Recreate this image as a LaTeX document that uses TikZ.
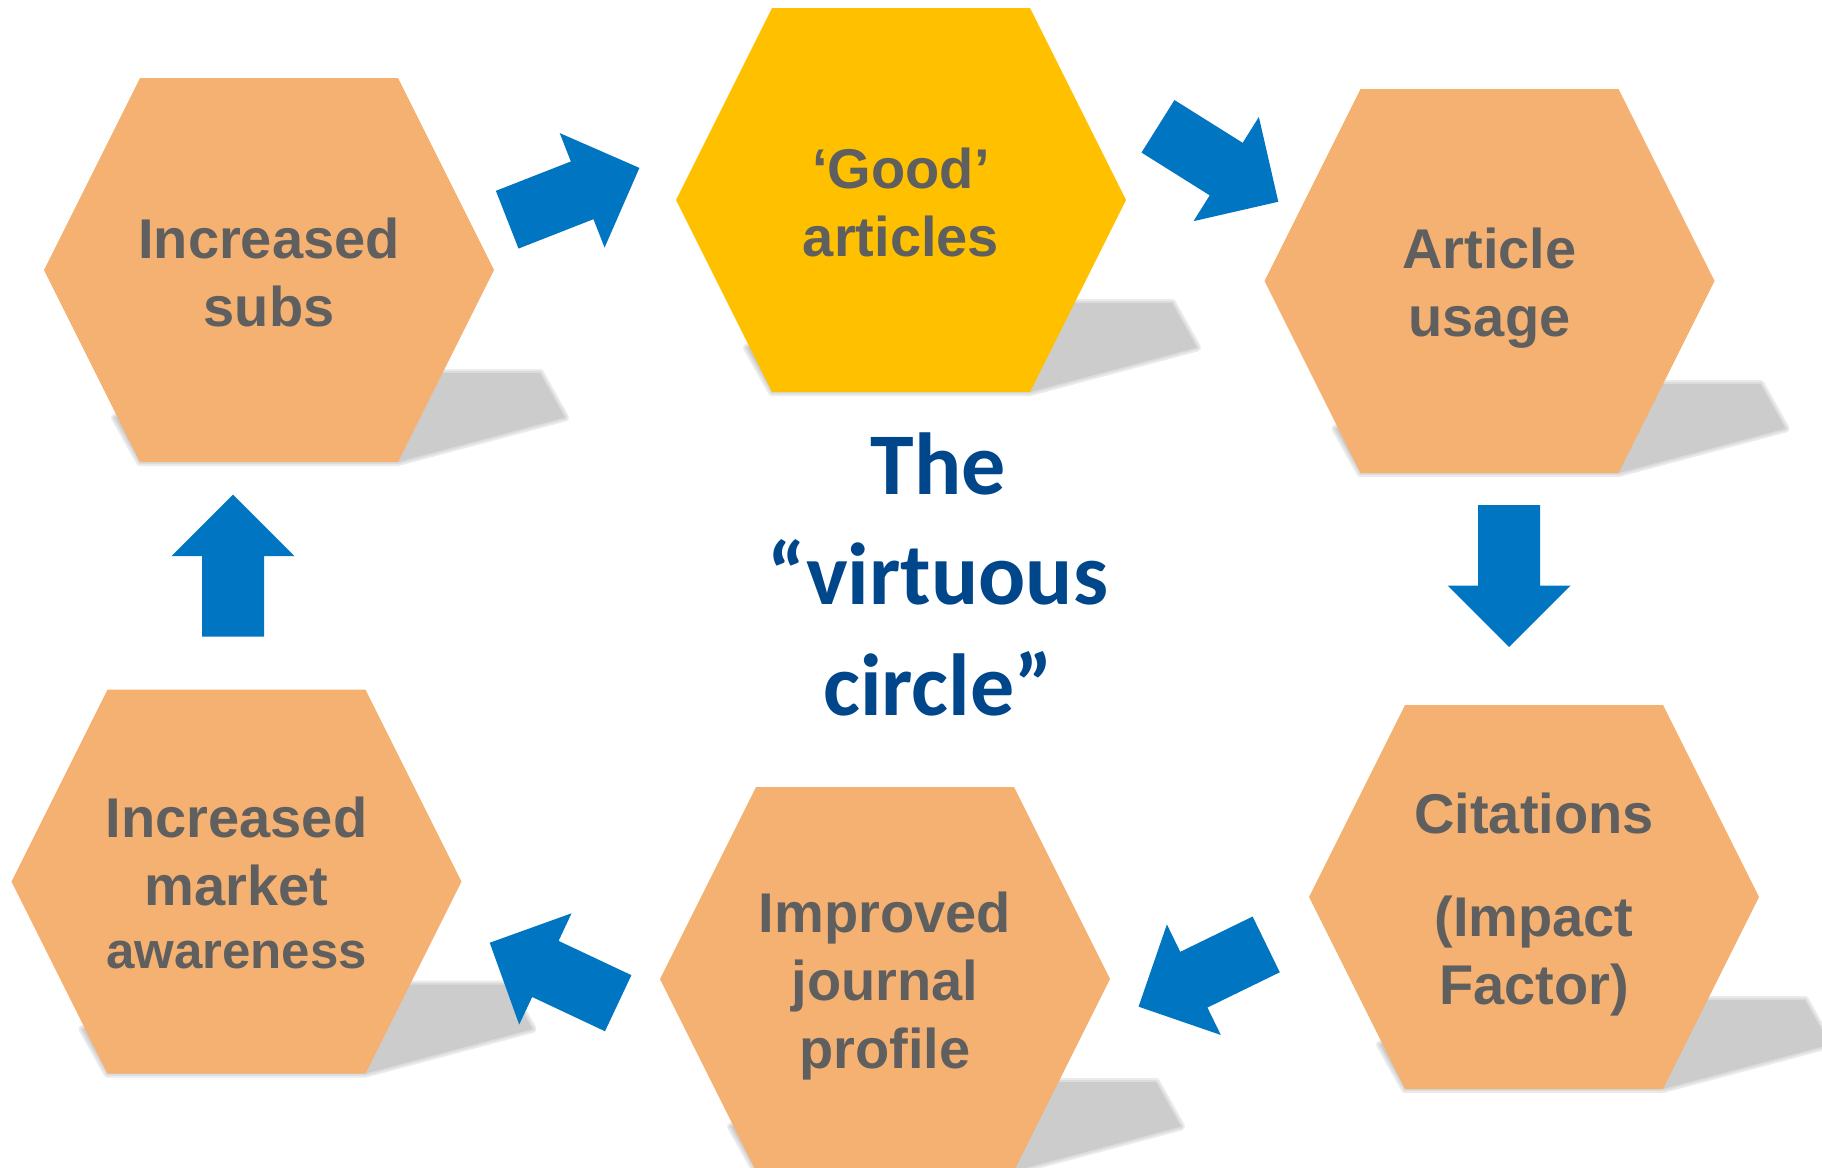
\documentclass[tikz,border=0pt]{standalone}
\usepackage{fontspec}
\setmainfont{Liberation Sans}
\newfontfamily\titlefont{Carlito}
\definecolor{hexorange}{HTML}{F4B171}
\definecolor{hexyellow}{HTML}{FFC000}
\definecolor{arrowblue}{HTML}{0075C2}
\definecolor{titleblue}{HTML}{00468B}
\definecolor{textgray}{HTML}{5F5F5F}
\definecolor{shadowgray}{HTML}{CCCCCC}
\definecolor{shadowsoft}{HTML}{DCDCDC}
\definecolor{shadowsofter}{HTML}{EBEBEB}
\tikzset{
  hextext/.style={anchor=base, align=center, text=textgray, inner sep=0pt,
    font=\bfseries\fontsize{28}{34}\selectfont},
  titletext/.style={anchor=base, align=center, text=titleblue, inner sep=0pt,
    font=\titlefont\bfseries\fontsize{44}{55.25}\selectfont},
  blockarrow/.style={fill=arrowblue},
}
% hexagon with its floor shadow, centred at #1,#2, filled with #3
\newcommand\hexwithshadow[3]{%
  \begin{scope}[shift={(#1,#2)}]
    \draw[shadowsofter, line width=4pt, line join=round]
      (-154,147.5) -- (13,103) -- (271,103) -- (296,147.5) -- (129,192) -- (-129,192) -- cycle;
    \draw[shadowsoft, line width=2pt, line join=round]
      (-154,147.5) -- (13,103) -- (271,103) -- (296,147.5) -- (129,192) -- (-129,192) -- cycle;
    \fill[shadowgray]
      (-154,147.5) -- (13,103) -- (271,103) -- (296,147.5) -- (129,192) -- (-129,192) -- cycle;
    \fill[#3] (-225,0) -- (-129,-192) -- (129,-192) -- (225,0) -- (129,192) -- (-129,192) -- cycle;
  \end{scope}}
% block arrow with tail centre at coordinate #1, pointing at angle #2
\newcommand\blockarrowat[2]{%
  \fill[blockarrow, shift={(#1)}, rotate=#2]
    (0,-31) -- (80.5,-31) -- (80.5,-61.5) -- (142,0) -- (80.5,61.5) -- (80.5,31) -- (0,31) -- cycle;}
\begin{document}
\begin{tikzpicture}[x=0.5pt,y=-0.5pt]
\useasboundingbox (0,0) rectangle (1822,1168);
\clip (0,0) rectangle (1822,1168);
\fill[white] (0,0) rectangle (1822,1168);

% hexagons
\hexwithshadow{269}{270}{hexorange}
\hexwithshadow{901}{200}{hexyellow}
\hexwithshadow{1489.5}{281}{hexorange}
\hexwithshadow{1534}{897}{hexorange}
\hexwithshadow{885}{979}{hexorange}
\hexwithshadow{236.5}{881.5}{hexorange}

% texts (anchored at the baseline of their last line)
\node[hextext] (subs) at (269,326) {Increased\\subs};
\node[hextext] (good) at (901,256) {‘Good’\\articles};
\node[hextext] (usage) at (1489.5,336.7) {Article\\usage};
\node[hextext] (cit) at (1534,1004.3) {Citations\\[17.5pt](Impact\\Factor)};
\node[hextext] (prof) at (885,1068.3) {Improved\\journal\\profile};
\node[hextext] (mkt) at (236.5,968.4) {Increased\\market\\[-2.5pt]{\fontsize{25.5}{31.5}\selectfont awareness}};
\node[titletext] (title) at (938,715) {The\\“virtuous\\circle”};

% arrows (tail centres)
\coordinate (a1) at (507.2,219.7);
\coordinate (a2) at (1158,126.3);
\coordinate (a3) at (1509.2,505);
\coordinate (a4) at (1266.2,944.4);
\coordinate (a5) at (618.2,1003.2);
\coordinate (a6) at (233,636.6);
\blockarrowat{a1}{21.4}
\blockarrowat{a2}{-32.1}
\blockarrowat{a3}{-90}
\blockarrowat{a4}{-154}
\blockarrowat{a5}{154.8}
\blockarrowat{a6}{90}
\end{tikzpicture}
\end{document}
